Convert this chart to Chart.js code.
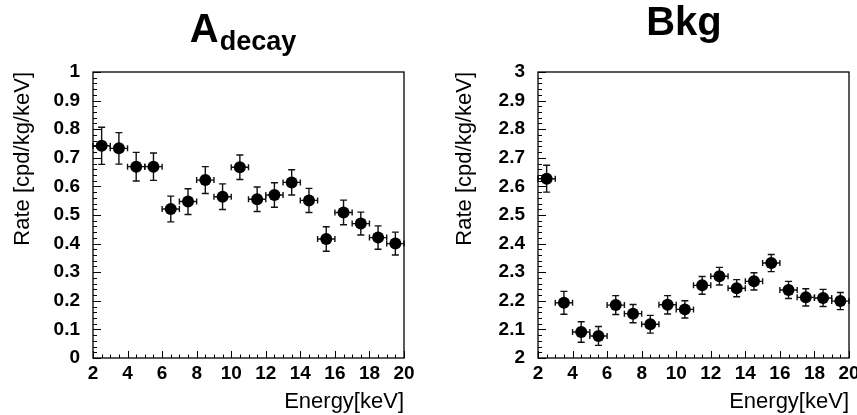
<!DOCTYPE html>
<html>
<head>
<meta charset="utf-8">
<script src="https://cdn.jsdelivr.net/npm/chart.js@4.4.1/dist/chart.umd.min.js"></script>
<style>
  html, body { margin: 0; padding: 0; background: #fff; }
  #wrap { position: relative; width: 857px; height: 415px; overflow: hidden; }
  canvas { position: absolute; top: 0; }
  #c1 { left: 0; }
  #c2 { left: 428px; }
</style>
</head>
<body>
<div id="wrap">
  <canvas id="c1" width="428" height="415"></canvas>
  <canvas id="c2" width="429" height="415"></canvas>
</div>
<script>
// ---- data ----
const energy = [2.5, 3.5, 4.5, 5.5, 6.5, 7.5, 8.5, 9.5, 10.5, 11.5, 12.5, 13.5, 14.5, 15.5, 16.5, 17.5, 18.5, 19.5];
const energyErr = [0.5, 0.5, 0.5, 0.5, 0.5, 0.5, 0.5, 0.5, 0.5, 0.5, 0.5, 0.5, 0.5, 0.5, 0.5, 0.5, 0.5, 0.5];

const aDecay = [0.742, 0.733, 0.669, 0.669, 0.521, 0.547, 0.622, 0.564, 0.667, 0.555, 0.570, 0.614, 0.551, 0.416, 0.509, 0.470, 0.421, 0.400];
const aDecayErr = [0.065, 0.055, 0.050, 0.048, 0.045, 0.045, 0.047, 0.045, 0.043, 0.043, 0.043, 0.044, 0.042, 0.043, 0.043, 0.040, 0.041, 0.040];

const bkg = [2.627, 2.193, 2.091, 2.077, 2.185, 2.155, 2.118, 2.186, 2.170, 2.254, 2.286, 2.244, 2.268, 2.332, 2.238, 2.212, 2.210, 2.199];
const bkgErr = [0.047, 0.040, 0.036, 0.033, 0.033, 0.032, 0.031, 0.032, 0.030, 0.031, 0.031, 0.030, 0.030, 0.030, 0.030, 0.030, 0.030, 0.030];

const xTicks = [2, 4, 6, 8, 10, 12, 14, 16, 18, 20];
const yTicksA = [0, 0.1, 0.2, 0.3, 0.4, 0.5, 0.6, 0.7, 0.8, 0.9, 1];
const yTicksB = [2, 2.1, 2.2, 2.3, 2.4, 2.5, 2.6, 2.7, 2.8, 2.9, 3];

const FONT = "'Liberation Sans', Arial, Helvetica, sans-serif";

// ---- ROOT-like decorations ----
const rootPlugin = {
  id: 'rootStyle',
  beforeDatasetsDraw(chart, args, opts) {
    const ctx = chart.ctx, xs = chart.scales.x, ys = chart.scales.y;
    const pts = chart.data.datasets[0].data;
    ctx.save();
    ctx.strokeStyle = '#111';
    ctx.lineWidth = 1.4;
    const cap = 3.5;
    pts.forEach((p, i) => {
      const px = xs.getPixelForValue(p.x), py = ys.getPixelForValue(p.y);
      const x0 = xs.getPixelForValue(p.x - opts.xErr[i]), x1 = xs.getPixelForValue(p.x + opts.xErr[i]);
      const y0 = ys.getPixelForValue(p.y - opts.yErr[i]), y1 = ys.getPixelForValue(p.y + opts.yErr[i]);
      ctx.beginPath();
      ctx.moveTo(x0, py); ctx.lineTo(x1, py);
      ctx.moveTo(x0, py - 3); ctx.lineTo(x0, py + 3);
      ctx.moveTo(x1, py - 3); ctx.lineTo(x1, py + 3);
      ctx.moveTo(px, y0); ctx.lineTo(px, y1);
      ctx.moveTo(px - cap, y0); ctx.lineTo(px + cap, y0);
      ctx.moveTo(px - cap, y1); ctx.lineTo(px + cap, y1);
      ctx.stroke();
    });
    ctx.restore();
  },
  afterDraw(chart, args, opts) {
    const ctx = chart.ctx, a = chart.chartArea, xs = chart.scales.x, ys = chart.scales.y;
    ctx.save();
    ctx.strokeStyle = '#000';
    ctx.lineWidth = 1.3;
    ctx.strokeRect(a.left, a.top, a.right - a.left, a.bottom - a.top);
    ctx.lineWidth = 1;
    ctx.beginPath();
    // x ticks
    for (let v = xs.min; v <= xs.max + 1e-9; v += opts.xMinor) {
      const major = Math.abs(v / opts.xMajor - Math.round(v / opts.xMajor)) < 1e-6;
      const px = Math.round(xs.getPixelForValue(v)) + 0.5;
      ctx.moveTo(px, a.bottom); ctx.lineTo(px, a.bottom - (major ? 7 : 3.5));
    }
    // y ticks
    for (let v = ys.min; v <= ys.max + 1e-9; v += opts.yMinor) {
      const major = Math.abs(v / opts.yMajor - Math.round(v / opts.yMajor)) < 1e-6;
      const py = Math.round(ys.getPixelForValue(v)) + 0.5;
      ctx.moveTo(a.left, py); ctx.lineTo(a.left + (major ? 8 : 4), py);
    }
    ctx.stroke();
    // title with optional subscript
    const cx = (a.left + a.right) / 2 + opts.titleShift;
    ctx.fillStyle = '#000';
    ctx.textBaseline = 'alphabetic';
    ctx.font = 'bold 40px ' + FONT;
    const w1 = ctx.measureText(opts.main).width;
    let w2 = 0;
    if (opts.sub) { ctx.font = 'bold 27px ' + FONT; w2 = ctx.measureText(opts.sub).width; }
    const start = cx - (w1 + w2) / 2;
    ctx.font = 'bold 40px ' + FONT;
    ctx.textAlign = 'left';
    ctx.fillText(opts.main, start, opts.titleBase);
    if (opts.sub) {
      ctx.font = 'bold 27px ' + FONT;
      ctx.fillText(opts.sub, start + w1 + 1, opts.titleBase + 8);
    }
    ctx.restore();
  }
};

function makeChart(id, values, errs, yTicks, opts) {
  const pts = energy.map((e, i) => ({ x: e, y: values[i] }));
  return new Chart(document.getElementById(id), {
    type: 'scatter',
    data: { datasets: [{ data: pts, backgroundColor: '#000', borderColor: '#000', pointRadius: 6, pointBorderWidth: 0, pointHoverRadius: 6 }] },
    options: {
      responsive: false,
      animation: false,
      events: [],
      layout: { padding: { left: 0, right: opts.padRight, top: 72, bottom: 0 } },
      plugins: {
        legend: { display: false },
        tooltip: { enabled: false },
        rootStyle: {
          xErr: energyErr, yErr: errs,
          xMajor: 2, xMinor: 0.5, yMajor: 0.1, yMinor: 0.02,
          main: opts.main, sub: opts.sub, titleBase: opts.titleBase, titleShift: opts.titleShift
        }
      },
      scales: {
        x: {
          type: 'linear', min: 2, max: 20,
          grid: { display: false }, border: { display: false },
          afterBuildTicks: s => { s.ticks = xTicks.map(v => ({ value: v })); },
          afterFit: s => { s.height = 57; s.paddingLeft = 0; s.paddingRight = 0; },
          ticks: { autoSkip: false, maxRotation: 0, padding: -4, color: '#000',
                   font: { family: FONT, size: 19, weight: 'bold' },
                   callback: v => String(v) },
          title: { display: true, text: 'Energy[keV]', align: 'end', color: '#000',
                   font: { family: FONT, size: 22 }, padding: { top: 0, bottom: 0 } }
        },
        y: {
          type: 'linear', min: yTicks[0], max: yTicks[yTicks.length - 1],
          grid: { display: false }, border: { display: false },
          afterBuildTicks: s => { s.ticks = yTicks.map(v => ({ value: v })); },
          afterFit: s => { s.width = opts.yWidth; s.paddingTop = 0; s.paddingBottom = 0; },
          ticks: { autoSkip: false, padding: 5, color: '#000',
                   font: { family: FONT, size: 19, weight: 'bold' },
                   callback: v => String(Math.round(v * 10) / 10) },
          title: { display: true, text: 'Rate [cpd/kg/keV]', align: 'end', color: '#000',
                   font: { family: FONT, size: 22 }, padding: { top: opts.yTitlePad, bottom: 0 } }
        }
      }
    },
    plugins: [rootPlugin]
  });
}

makeChart('c1', aDecay, aDecayErr, yTicksA, { padRight: 24, yWidth: 93, yTitlePad: 10, main: 'A', sub: 'decay', titleBase: 42, titleShift: -6 });
makeChart('c2', bkg, bkgErr, yTicksB, { padRight: 8, yWidth: 110, yTitlePad: 24, main: 'Bkg', sub: '', titleBase: 35, titleShift: -9.5 });
</script>
</body>
</html>
